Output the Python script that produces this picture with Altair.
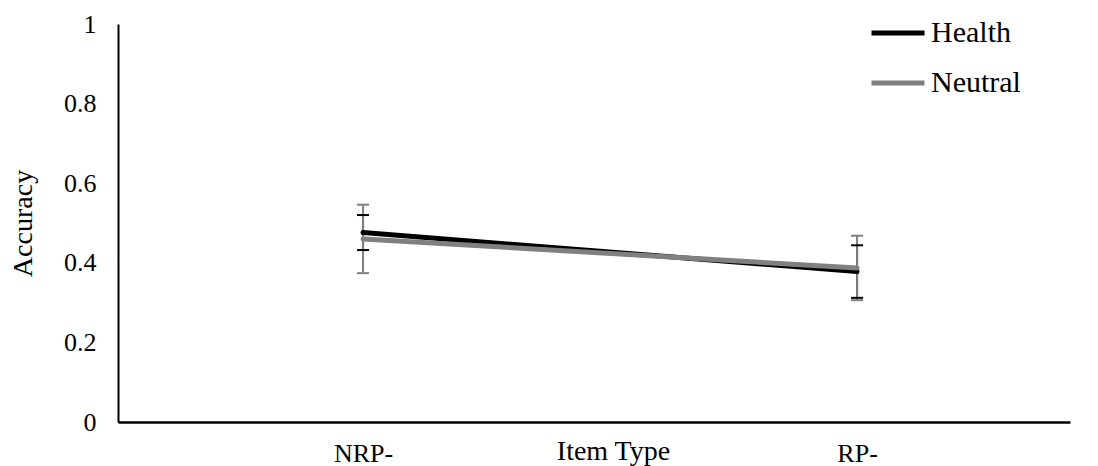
import json
import altair as alt
import pandas as pd

# Accuracy by item type for the two word conditions
item_types = ["NRP-", "RP-"]
series_names = ["Health", "Neutral"]
health_mean = [0.476, 0.378]
health_err = [0.044, 0.066]
neutral_mean = [0.460, 0.387]
neutral_err = [0.086, 0.081]

rows = []
for name, means, errs in [("Health", health_mean, health_err),
                          ("Neutral", neutral_mean, neutral_err)]:
    for pos, (item, m, e) in enumerate(zip(item_types, means, errs), start=1):
        rows.append({"item": item, "pos": pos, "series": name, "acc": m,
                     "lo": m - e, "hi": m + e})
df = pd.DataFrame(rows)

FONT = "Liberation Serif"
PLOT_W, PLOT_H = 952, 398

x_enc = alt.X(
    "pos:Q",
    scale=alt.Scale(domain=[0.504, 2.431], nice=False, zero=False),
    axis=alt.Axis(
        title="Item Type", titleX=495, titleY=37, titleFont=FONT,
        titleFontSize=28, titleFontWeight="normal", titleColor="black",
        titleBaseline="alphabetic",
        values=list(range(1, len(item_types) + 1)),
        labelExpr=f"{json.dumps(item_types)}[datum.value - 1]",
        labelFont=FONT, labelFontSize=26, labelColor="black", labelAngle=0,
        labelPadding=18, ticks=False, grid=False,
        domainColor="black", domainWidth=2.5,
    ),
)
y_scale = alt.Scale(domain=[0, 1], nice=False, zero=True)
y_axis = alt.Axis(
    title="Accuracy", titleFont=FONT, titleFontSize=28,
    titleFontWeight="normal", titleColor="black", titlePadding=26,
    values=[0, 0.2, 0.4, 0.6, 0.8, 1],
    labelExpr="format(datum.value, '~g')",
    labelFont=FONT, labelFontSize=26, labelColor="black",
    labelPadding=22, ticks=False, grid=False,
    domainColor="black", domainWidth=2,
)
color_enc = alt.Color(
    "series:N",
    scale=alt.Scale(domain=series_names, range=["#000000", "#808080"]),
    legend=alt.Legend(
        title=None, orient="none", legendX=751, legendY=-20,
        symbolType="stroke", symbolSize=2809, symbolStrokeWidth=5,
        symbolOpacity=1, labelExpr="datum.label",
        labelFont=FONT, labelFontSize=30, labelColor="black",
        labelOffset=4, rowPadding=6, labelLimit=300,
    ),
)

base = alt.Chart(df)

err_rule = base.mark_rule(strokeWidth=2, opacity=1).encode(
    x=x_enc,
    y=alt.Y("lo:Q", scale=y_scale, axis=y_axis),
    y2="hi:Q",
    color=color_enc,
)
err_cap_lo = base.mark_tick(orient="horizontal", size=12, thickness=2,
                            opacity=1).encode(
    x=x_enc, y=alt.Y("lo:Q", scale=y_scale, axis=y_axis), color=color_enc,
)
err_cap_hi = base.mark_tick(orient="horizontal", size=12, thickness=2,
                            opacity=1).encode(
    x=x_enc, y=alt.Y("hi:Q", scale=y_scale, axis=y_axis), color=color_enc,
)
lines = base.mark_line(strokeWidth=5, strokeCap="round", opacity=1).encode(
    x=x_enc,
    y=alt.Y("acc:Q", scale=y_scale, axis=y_axis),
    color=color_enc,
    order=alt.Order("pos:Q"),
)

chart = (
    alt.layer(err_rule, err_cap_lo, err_cap_hi, lines)
    .properties(
        width=PLOT_W, height=PLOT_H,
        autosize=alt.AutoSizeParams(type="none"),
        padding={"left": 118, "top": 24, "right": 28, "bottom": 44},
        background="white",
    )
    .configure_view(stroke=None)
)

chart.save("out.html", embed_options={"renderer": "svg", "actions": False})
